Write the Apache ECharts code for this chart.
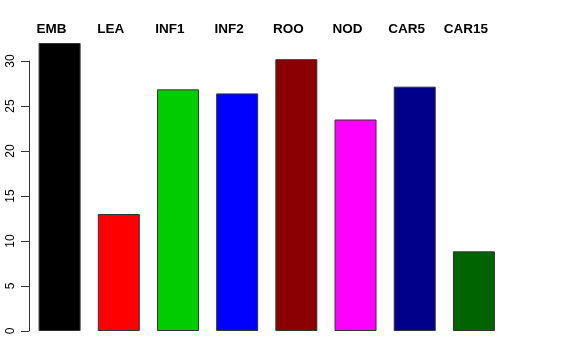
<!DOCTYPE html>
<html>
<head>
<meta charset="utf-8">
<script src="https://cdn.jsdelivr.net/npm/echarts@6/dist/echarts.min.js"></script>
<style>html,body{margin:0;padding:0;background:#fff;}#c{width:576px;height:360px;}</style>
</head>
<body>
<div id="c"></div>
<script>
var categories = ['EMB', 'LEA', 'INF1', 'INF2', 'ROO', 'NOD', 'CAR5', 'CAR15'];
var values = [32.0, 13.0, 26.85, 26.4, 30.2, 23.5, 27.15, 8.85];
var colors = ['#000000', '#FF0000', '#00CD00', '#0000FF', '#8B0000', '#FF00FF', '#00008B', '#006400'];
var yTicks = [0, 5, 10, 15, 20, 25, 30];

var chart = echarts.init(document.getElementById('c'), null, {renderer: 'canvas'});
chart.setOption({
  animation: false,
  backgroundColor: '#ffffff',
  grid: {left: 30, top: 61, width: 473.5, bottom: 29, containLabel: false},
  xAxis: {
    type: 'category',
    data: categories,
    position: 'top',
    axisLine: {show: false},
    axisTick: {show: false},
    axisLabel: {
      margin: 25,
      fontFamily: 'Liberation Sans',
      fontWeight: 'bold',
      fontSize: 13.5,
      color: '#000',
      padding: [0, 16, 0, 0]
    }
  },
  yAxis: {
    type: 'value',
    min: yTicks[0],
    max: yTicks[yTicks.length - 1],
    interval: 5,
    offset: 1,
    splitLine: {show: false},
    axisLine: {show: true, lineStyle: {color: '#333', width: 1}},
    axisTick: {show: true, length: 8, lineStyle: {color: '#333', width: 1}},
    axisLabel: {
      rotate: 90,
      margin: 12,
      fontFamily: 'Liberation Sans',
      fontSize: 12,
      color: '#000'
    }
  },
  series: [{
    type: 'bar',
    clip: false,
    barWidth: 42,
    data: values.map(function (v, i) {
      return {value: v, itemStyle: {color: colors[i]}};
    }),
    itemStyle: {borderColor: '#333', borderWidth: 1}
  }]
});
</script>
</body>
</html>
